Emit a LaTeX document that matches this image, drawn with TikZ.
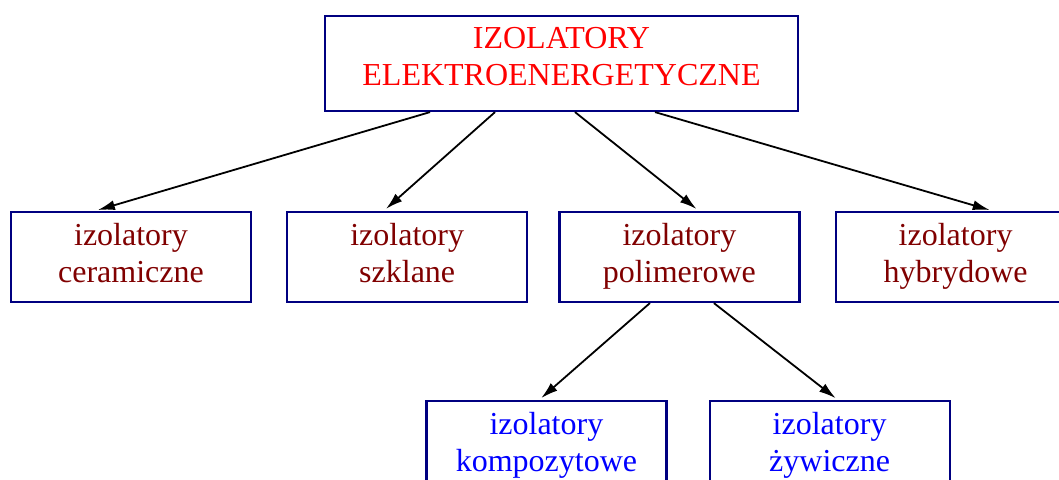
\documentclass[tikz,border=0pt]{standalone}
\usepackage{fontspec}
\setmainfont{Liberation Serif}
\usetikzlibrary{arrows.meta, positioning}

\definecolor{boxblue}{RGB}{0,0,128}
\definecolor{darkred}{RGB}{128,0,0}

\begin{document}
\begin{tikzpicture}[x=1pt, y=1pt, >={Latex[length=17pt,width=10pt]},
    line width=1.8pt, shorten >=3pt,
    box/.style={draw=boxblue, line width=2.2pt, minimum width=240pt,
        minimum height=90pt, align=center, inner sep=0pt, text depth=8pt,
        font=\fontsize{32}{37}\selectfont},
    kind/.style={box, text=darkred},
    sub/.style={box, text=blue}]

    \useasboundingbox (0,0) rectangle (1059,-479);

    \node[box, text=red, minimum width=473pt, minimum height=95pt, text depth=14pt]
        (top) at (561.5,-63.5) {IZOLATORY\\ELEKTROENERGETYCZNE};

    \node[kind] (cer) at (131,-257)    {izolatory\\ceramiczne};
    \node[kind] (szk) [right=34pt of cer] {izolatory\\szklane};
    \node[kind] (pol) [right=30pt of szk] {izolatory\\polimerowe};
    \node[kind] (hyb) [right=34pt of pol] {izolatory\\hybrydowe};

    \node[sub] (kom) [below=97pt of pol, xshift=-133pt] {izolatory\\kompozytowe};
    \node[sub] (zyw) [right=41pt of kom]               {izolatory\\żywiczne};

    \draw[->] ([xshift=-131.5pt]top.south) -- ([xshift=-36pt]cer.north);
    \draw[->] ([xshift=-66.5pt]top.south)  -- ([xshift=-23.5pt]szk.north);
    \draw[->] ([xshift=13.5pt]top.south)   -- ([xshift=19.5pt]pol.north);
    \draw[->] ([xshift=93.5pt]top.south)   -- ([xshift=37pt]hyb.north);
    \draw[->] ([xshift=-29.5pt]pol.south)  -- ([xshift=-7.5pt]kom.north);
    \draw[->] ([xshift=34.5pt]pol.south)   -- ([xshift=8.5pt]zyw.north);
\end{tikzpicture}
\end{document}
